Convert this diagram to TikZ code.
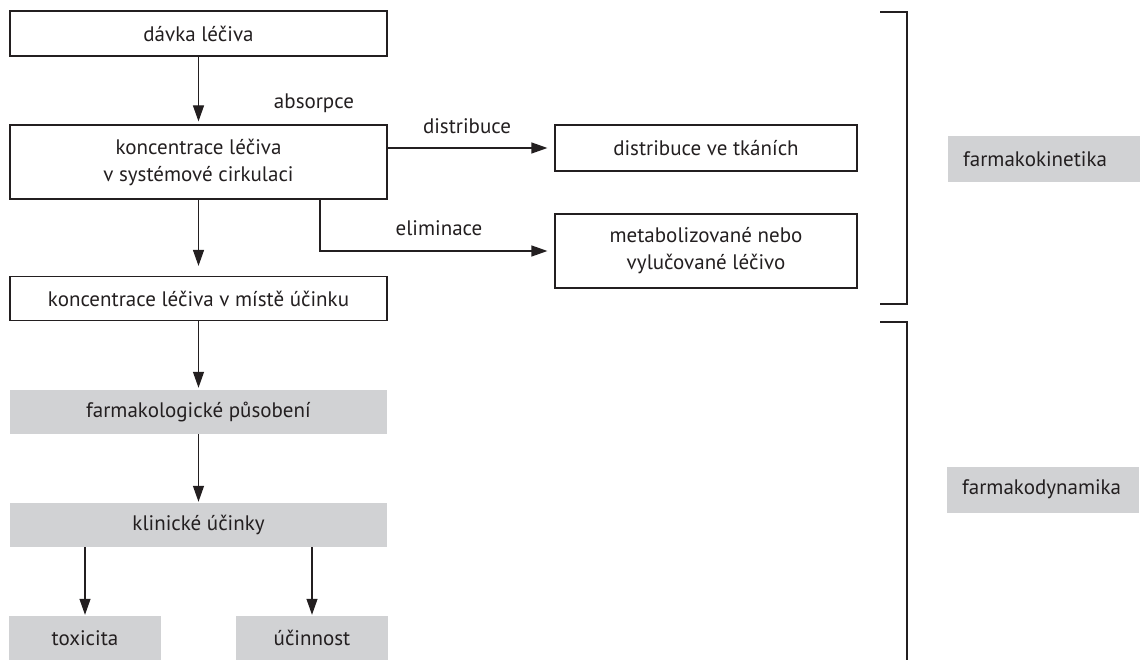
\documentclass[tikz,border=0pt]{standalone}
\usepackage{fontspec}
\setmainfont{PT Sans}
\usetikzlibrary{arrows.meta}
\usetikzlibrary{positioning}

\definecolor{boxgray}{RGB}{209,210,212}
\definecolor{ink}{RGB}{35,31,32}

\tikzset{
  box/.style={draw=ink,line width=1.2pt,minimum width=377pt,minimum height=45pt,
    align=center,inner sep=0pt},
  graybox/.style={fill=boxgray,minimum width=377pt,minimum height=44pt,
    align=center,inner sep=0pt},
  sidebox/.style={fill=boxgray,anchor=west,minimum height=46pt,inner xsep=15pt,
    text width=162pt,align=left},
  arr/.style={draw=ink,line width=1.2pt,-{Triangle[length=16pt,width=11pt]}},
  bracket/.style={draw=ink,line width=1.2pt}
}

\begin{document}
\begin{tikzpicture}[x=1pt,y=-1pt,font=\fontsize{21}{27}\selectfont,
  every node/.append style={text=ink}]
\useasboundingbox (0,0) rectangle (1140,660);

\node[box] (davka) at (198.5,33.5) {dávka léčiva};
\node[box,minimum height=74pt] (konc) at (198.5,162) {koncentrace léčiva\\v systémové cirkulaci};
\node[box,minimum height=44pt] (misto) at (198.5,298.5) {koncentrace léčiva v místě účinku};
\node[graybox] (pusobeni) at (198.5,412) {farmakologické působení};
\node[graybox] (klinicke) at (198.5,525) {klinické účinky};
\node[graybox,minimum width=152pt] (toxicita) at (85,638) {toxicita};
\node[graybox,minimum width=152pt] (ucinnost) at (312,638) {účinnost};

\node[box,minimum width=302pt,minimum height=46pt] (tkane) at (706,148) {distribuce ve tkáních};
\node[box,minimum width=302pt,minimum height=74pt] (vylucovane) at (706,251) {metabolizované nebo\\vylučované léčivo};

\node (absorpce) at (314,103) {absorpce};
\node (distribuce) at (467,126) {distribuce};
\node (eliminace) at (439,228) {eliminace};

\draw[arr,shorten >=3pt] (davka) -- (konc);
\draw[arr,shorten >=10pt] (konc) -- (misto);
\draw[arr,shorten >=2pt] (misto) -- (pusobeni);
\draw[arr,shorten >=1pt] (pusobeni) -- (klinicke);
\draw[arr,shorten >=1pt] (klinicke.south -| toxicita) -- (toxicita);
\draw[arr,shorten >=1pt] (klinicke.south -| ucinnost) -- (ucinnost);
\draw[arr,shorten >=7pt] (konc.east |- tkane.west) -- (tkane.west);
\draw[arr,shorten >=7pt] ([xshift=121.5pt]konc.south) |- (vylucovane.west);

\draw[bracket] (880,12) -- (907,12) -- (907,304) -- (880,304);
\draw[bracket] (880,322) -- (907,322) -- (907,660);

\node[sidebox] (kinetika) at (948,159) {farmakokinetika};
\node[sidebox] (dynamika) at (947,489.5) {farmakodynamika};
\end{tikzpicture}
\end{document}
